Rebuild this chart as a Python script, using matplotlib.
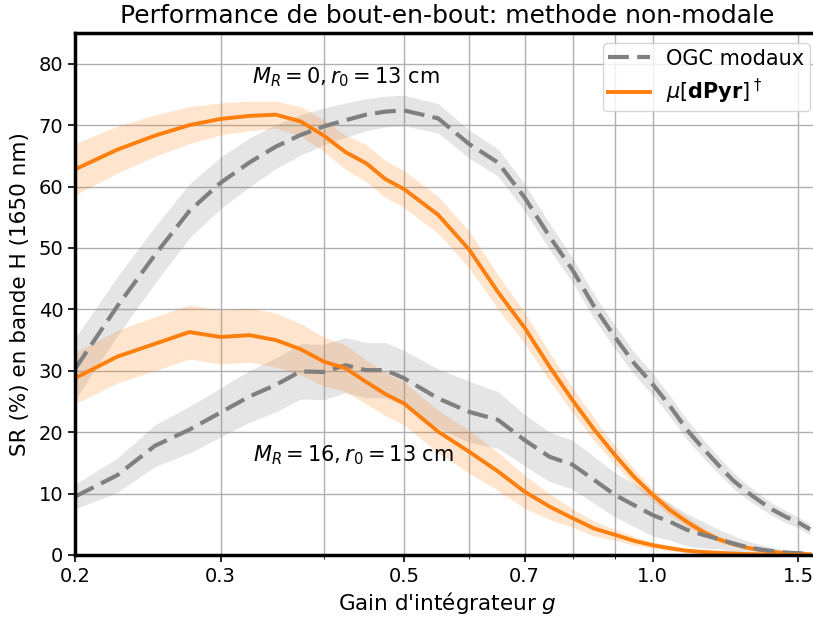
import matplotlib
matplotlib.use("Agg")
import matplotlib.pyplot as plt
import numpy as np
from matplotlib.ticker import FixedLocator, FixedFormatter, NullFormatter

# gains de l'intégrateur
g = [0.2, 0.225, 0.25, 0.275, 0.3, 0.325, 0.35, 0.375, 0.4, 0.425, 0.45, 0.475, 0.5,
     0.55, 0.6, 0.65, 0.7, 0.75, 0.8, 0.85, 0.9, 0.95, 1.0, 1.05, 1.1, 1.15, 1.2,
     1.25, 1.3, 1.35, 1.4, 1.45, 1.5, 1.55]

# M_R = 0 : OGC modaux
ogc_0 = [30.3, 40.5, 48.9, 56.0, 60.6, 63.9, 66.5, 68.4, 69.8, 70.8, 71.7, 72.2, 72.4,
         71.1, 66.9, 63.9, 58.2, 51.9, 46.4, 40.4, 35.5, 31.2, 27.8, 24.2, 20.4, 17.4,
         14.7, 12.2, 10.3, 8.7, 7.3, 6.2, 5.3, 4.2]
ogc_0_err = [5.0, 4.8, 4.6, 4.4, 4.2, 4.0, 3.6, 3.3, 3.0, 2.8, 2.6, 2.5, 2.5,
             2.4, 2.3, 2.2, 2.2, 2.1, 2.0, 2.0, 1.9, 1.8, 1.8, 1.7, 1.6, 1.5,
             1.4, 1.3, 1.2, 1.1, 1.0, 1.0, 0.9, 0.9]

# M_R = 0 : dPyr
pyr_0 = [62.8, 66.0, 68.3, 70.0, 71.0, 71.5, 71.7, 70.6, 68.3, 65.6, 63.8, 61.2, 59.6,
         55.4, 49.7, 42.8, 37.0, 30.7, 25.2, 20.4, 16.3, 12.7, 9.8, 7.3, 5.4, 3.8,
         2.6, 1.8, 1.2, 0.8, 0.5, 0.3, 0.2, 0.1]
pyr_0_err = [4.2, 3.8, 3.4, 3.0, 2.6, 2.4, 2.2, 2.4, 2.6, 2.8, 3.0, 3.0, 3.0,
             3.0, 3.0, 2.8, 2.5, 2.3, 2.0, 1.8, 1.5, 1.3, 1.0, 0.9, 0.8, 0.6,
             0.5, 0.4, 0.3, 0.2, 0.2, 0.1, 0.1, 0.1]

# M_R = 16 : OGC modaux
ogc_16 = [9.5, 13.0, 17.8, 20.4, 23.2, 25.8, 27.7, 29.9, 29.8, 30.9, 30.1, 30.1, 28.8,
          25.5, 23.3, 22.0, 18.7, 16.0, 14.7, 12.2, 9.8, 8.1, 6.5, 5.4, 4.1, 3.3,
          2.6, 1.9, 1.3, 0.9, 0.6, 0.4, 0.3, 0.2]
ogc_16_err = [2.0, 2.8, 3.4, 3.8, 4.0, 4.2, 4.4, 4.5, 4.5, 4.5, 4.5, 4.5, 4.5,
              4.8, 5.0, 4.6, 4.2, 4.0, 4.0, 3.8, 3.6, 3.5, 3.4, 3.0, 2.6, 2.2,
              1.6, 1.3, 1.0, 0.8, 0.6, 0.4, 0.3, 0.2]

# M_R = 16 : dPyr
pyr_16 = [28.8, 32.3, 34.4, 36.3, 35.5, 35.8, 35.0, 33.5, 31.5, 30.4, 28.2, 26.2, 24.7,
          20.1, 16.8, 13.6, 10.3, 7.9, 6.0, 4.3, 3.3, 2.3, 1.6, 1.1, 0.7, 0.5,
          0.35, 0.25, 0.15, 0.1, 0.07, 0.05, 0.04, 0.03]
pyr_16_err = [4.2, 4.3, 4.4, 4.4, 4.4, 4.4, 4.4, 4.2, 4.0, 3.8, 3.6, 3.5, 3.5,
              3.5, 3.5, 3.1, 2.7, 2.1, 1.5, 1.2, 0.9, 0.7, 0.5, 0.4, 0.3, 0.2,
              0.1, 0.1, 0.1, 0.05, 0.05, 0.03, 0.02, 0.02]

g = np.array(g)

fig = plt.figure(figsize=(8.13, 6.17), dpi=100)
ax = fig.add_axes([75 / 813, 62 / 617, 745 / 813, 522 / 617])

orange = "#ff7f0e"
grey = "gray"

for y, e in [(ogc_0, ogc_0_err), (ogc_16, ogc_16_err)]:
    y, e = np.array(y), np.array(e)
    ax.fill_between(g, y - e, y + e, color=grey, alpha=0.2, lw=0)
for y, e in [(pyr_0, pyr_0_err), (pyr_16, pyr_16_err)]:
    y, e = np.array(y), np.array(e)
    ax.fill_between(g, y - e, y + e, color=orange, alpha=0.2, lw=0)

ax.plot(g, ogc_0, ls=(0, (5, 2)), color=grey, lw=3, label="OGC modaux")
ax.plot(g, pyr_0, color=orange, lw=2.8, label=r"$\mu[\mathbf{dPyr}]^\dagger$")
ax.plot(g, ogc_16, ls=(0, (5, 2)), color=grey, lw=3)
ax.plot(g, pyr_16, color=orange, lw=2.8)

ax.set_xscale("log")
ax.set_xlim(0.2, 1.594)
ax.set_ylim(0, 85)
ax.xaxis.set_major_locator(FixedLocator([0.2, 0.3, 0.5, 0.7, 1.0, 1.5]))
ax.xaxis.set_major_formatter(FixedFormatter(["0.2", "0.3", "0.5", "0.7", "1.0", "1.5"]))
ax.xaxis.set_minor_locator(FixedLocator([0.4, 0.6, 0.8, 0.9]))
ax.xaxis.set_minor_formatter(NullFormatter())
ax.set_yticks(np.arange(0, 81, 10))

ax.grid(True, which="both", axis="x", color="#b0b0b0", lw=1)
ax.grid(True, which="major", axis="y", color="#b0b0b0", lw=1)
ax.set_axisbelow(True)

for s in ax.spines.values():
    s.set_linewidth(2.5)
ax.tick_params(labelsize=14, width=1.2, length=5)
ax.tick_params(which="minor", length=3)

ax.text(0.425, 77.8, r"$M_R = 0, r_0 = 13$ cm", fontsize=15, ha="center", va="center")
ax.text(0.435, 16.3, r"$M_R = 16, r_0 = 13$ cm", fontsize=15, ha="center", va="center")

ax.set_xlabel(r"Gain d'intégrateur $g$", fontsize=15.5, labelpad=3)
ax.set_ylabel("SR (%) en bande H (1650 nm)", fontsize=15.5, labelpad=6)
ax.set_title("Performance de bout-en-bout: methode non-modale", fontsize=18, pad=7)

ax.legend(loc="upper right", fontsize=15, handlelength=2.0, borderpad=0.25,
          labelspacing=0.4, borderaxespad=0.5)

fig.savefig("out.png", dpi=100)
